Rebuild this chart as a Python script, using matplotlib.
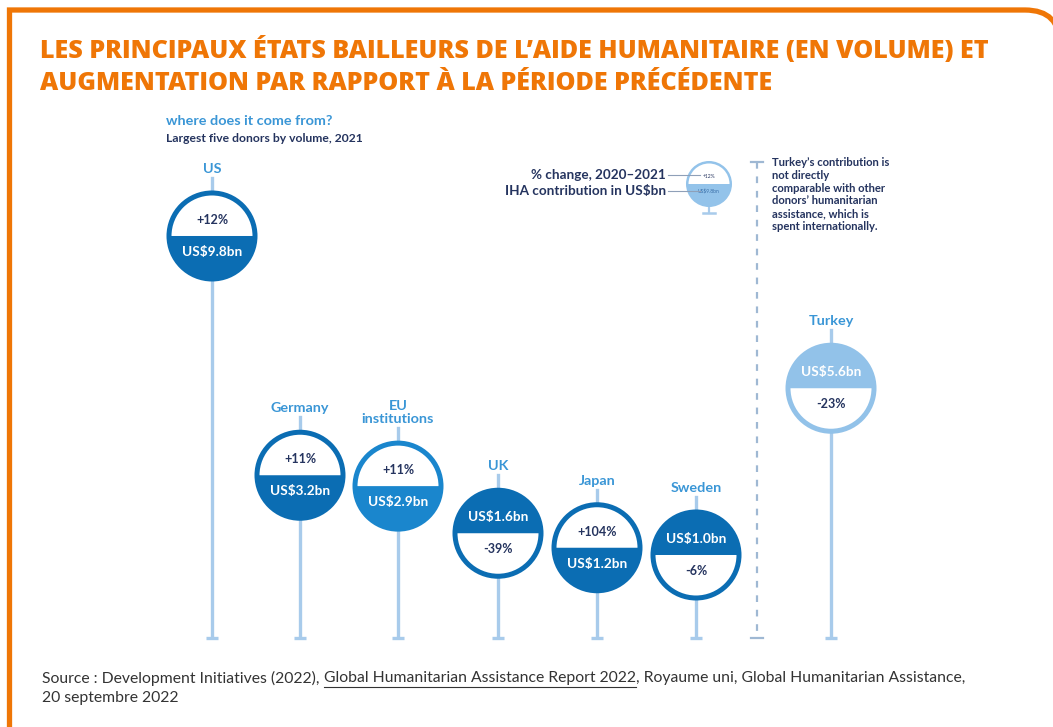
import matplotlib
matplotlib.use("Agg")
import matplotlib.pyplot as plt
import matplotlib.transforms as mtransforms
from matplotlib.patches import Circle, Wedge, PathPatch
from matplotlib.path import Path
from matplotlib.lines import Line2D

# data: IHA contribution (US$bn, 2021) and % change 2020-2021
donors = ["US", "Germany", "EU\ninstitutions", "UK", "Japan", "Sweden", "Turkey"]
volume_bn = [9.8, 3.2, 2.9, 1.6, 1.2, 1.0, 5.6]
change_pct = [12, 11, 11, -39, 104, -6, -23]

# layout (pixels) and colours
x_pos = [212, 300, 398, 498, 597, 696, 831]
badge_colors = ["#0b6db3", "#0b6db3", "#1a86cd", "#0b6db3", "#0b6db3", "#0b6db3", "#92c2e9"]
ORANGE = "#ef7606"
LABEL_BLUE = "#3a96d6"
NAVY = "#25345f"
STEM = "#a8cbeb"
BASELINE = -1.29

W, H = 1053, 727
plt.rcParams["font.family"] = ["Lato", "DejaVu Sans"]
fig = plt.figure(figsize=(W / 100, H / 100), dpi=100)

# pixel axes (y down) for frame and free text
ax = fig.add_axes([0, 0, 1, 1])
ax.set_xlim(0, W)
ax.set_ylim(H, 0)
ax.axis("off")

# chart axes: x in pixels, y in US$bn
ax2 = fig.add_axes([0, 0, 1, 1])
ax2.set_xlim(0, W)
ax2.set_ylim(-3.745, 16.31)
ax2.axis("off")
ax2.patch.set_visible(False)

# orange frame with rounded top-right corner
verts = [(9.5, 740), (9.5, 10), (1025, 10), (1060, 10), (1060, 45), (1060, 740)]
codes = [Path.MOVETO, Path.LINETO, Path.LINETO, Path.CURVE3, Path.CURVE3, Path.LINETO]
ax.add_patch(PathPatch(Path(verts, codes), fc="none", ec=ORANGE, lw=3.8, capstyle="butt"))

title_font = dict(color=ORANGE, fontsize=18.1, fontweight="heavy", va="center", ha="left",
                  family=["Open Sans", "DejaVu Sans"])
ax.text(40, 51, "LES PRINCIPAUX ÉTATS BAILLEURS DE L’AIDE HUMANITAIRE (EN VOLUME) ET",
        **title_font)
ax.text(40, 83, "AUGMENTATION PAR RAPPORT À LA PÉRIODE PRÉCÉDENTE", **title_font)

ax.text(166, 121, "where does it come from?", color=LABEL_BLUE, fontsize=10.4,
        fontweight="bold", va="center")
ax.text(166, 139, "Largest five donors by volume, 2021", color=NAVY, fontsize=8.7,
        fontweight="bold", va="center")

# stems and caps
ax2.vlines(x_pos, BASELINE, volume_bn, color=STEM, lw=2.4, zorder=1)
ax2.plot(x_pos, [BASELINE] * len(x_pos), ls="none", marker="_", ms=9, mew=2.4,
         color=STEM, zorder=1)

R_OUT, R_IN = 0.455, 0.405
for name, x, v, c, col in zip(donors, x_pos, volume_bn, change_pct, badge_colors):
    tr = fig.dpi_scale_trans + mtransforms.ScaledTranslation(x, v, ax2.transData)
    ax2.add_line(Line2D([0, 0], [0, 0.58], transform=tr, color=STEM, lw=2.4, zorder=1))
    ax2.add_patch(Circle((0, 0), R_OUT, transform=tr, fc=col, ec="none", zorder=3))
    up = c >= 0
    t1, t2 = (0, 180) if up else (180, 360)
    ax2.add_patch(Wedge((0, 0), R_IN, t1, t2, transform=tr, fc="white", ec="none", zorder=4))
    pct_y, vol_y = (0.16, -0.16) if up else (-0.16, 0.16)
    ax2.text(0, pct_y, f"{c:+d}%", transform=tr, ha="center", va="center",
             color=NAVY, fontsize=9, fontweight="bold", zorder=5)
    ax2.text(0, vol_y, f"US${v:.1f}bn", transform=tr, ha="center", va="center",
             color="white", fontsize=9.8, fontweight="bold", zorder=5)
    ax2.text(0, 0.61, name, transform=tr, ha="center", va="bottom", color=LABEL_BLUE,
             fontsize=10.4, fontweight="bold", multialignment="center", linespacing=1.1,
             zorder=5)

# legend badge
lx, ly, lr = 709, 184, 23
ax.plot([lx, lx], [ly, 213], color=STEM, lw=1.6, zorder=1)
ax.plot([lx - 6, lx + 6], [213, 213], color=STEM, lw=1.8, zorder=1)
ax.add_patch(Circle((lx, ly), lr, fc="#93c3ea", ec="none", zorder=3))
ax.add_patch(Wedge((lx, ly), lr - 2.5, 180, 360, fc="white", ec="none", zorder=4))
ax.text(lx, ly - 8, "+12%", fontsize=3.6, color=NAVY, ha="center", va="center", zorder=5)
ax.text(lx, ly + 7, "US$9.8bn", fontsize=3.6, color="#3a6fa8", ha="center", va="center",
        zorder=5)
ax.plot([668, 700], [175, 175], color="#8fa0b8", lw=0.8, zorder=6)
ax.plot([668, 700], [191, 191], color="#8fa0b8", lw=0.8, zorder=6)
ax.text(666, 175, "% change, 2020–2021", ha="right", va="center", color=NAVY,
        fontsize=9.7, fontweight="bold")
ax.text(666, 191, "IHA contribution in US$bn", ha="right", va="center", color=NAVY,
        fontsize=9.7, fontweight="bold")

# dashed separator and note
ax.plot([757, 757], [162, 638], color="#9fb8d3", lw=1.6, ls=(0, (3, 3.5)))
ax.plot([751, 763], [162, 162], color="#9fb8d3", lw=1.6)
ax.plot([751, 763], [638, 638], color="#9fb8d3", lw=1.6)
ax.text(772, 157, "Turkey’s contribution is\nnot directly\ncomparable with other\n"
        "donors’ humanitarian\nassistance, which is\nspent internationally.",
        ha="left", va="top", color=NAVY, fontsize=8.1, fontweight="bold", linespacing=1.2)

# source with underlined report title
renderer = fig.canvas.get_renderer()
parts = ["Source : Development Initiatives (2022), ",
         "Global Humanitarian Assistance Report 2022",
         ", Royaume uni, Global Humanitarian Assistance,"]
x0 = 42
for i, p in enumerate(parts):
    t = ax.text(x0, 678, p, ha="left", va="center", color="#333333", fontsize=11.3)
    bb = t.get_window_extent(renderer)
    if i == 1:
        ax.plot([x0, x0 + bb.width], [687, 687], color="#333333", lw=0.8)
    x0 += bb.width
ax.text(42, 698, "20 septembre 2022", ha="left", va="center", color="#333333", fontsize=11.3)

fig.savefig("out.png", dpi=100, facecolor="white")
